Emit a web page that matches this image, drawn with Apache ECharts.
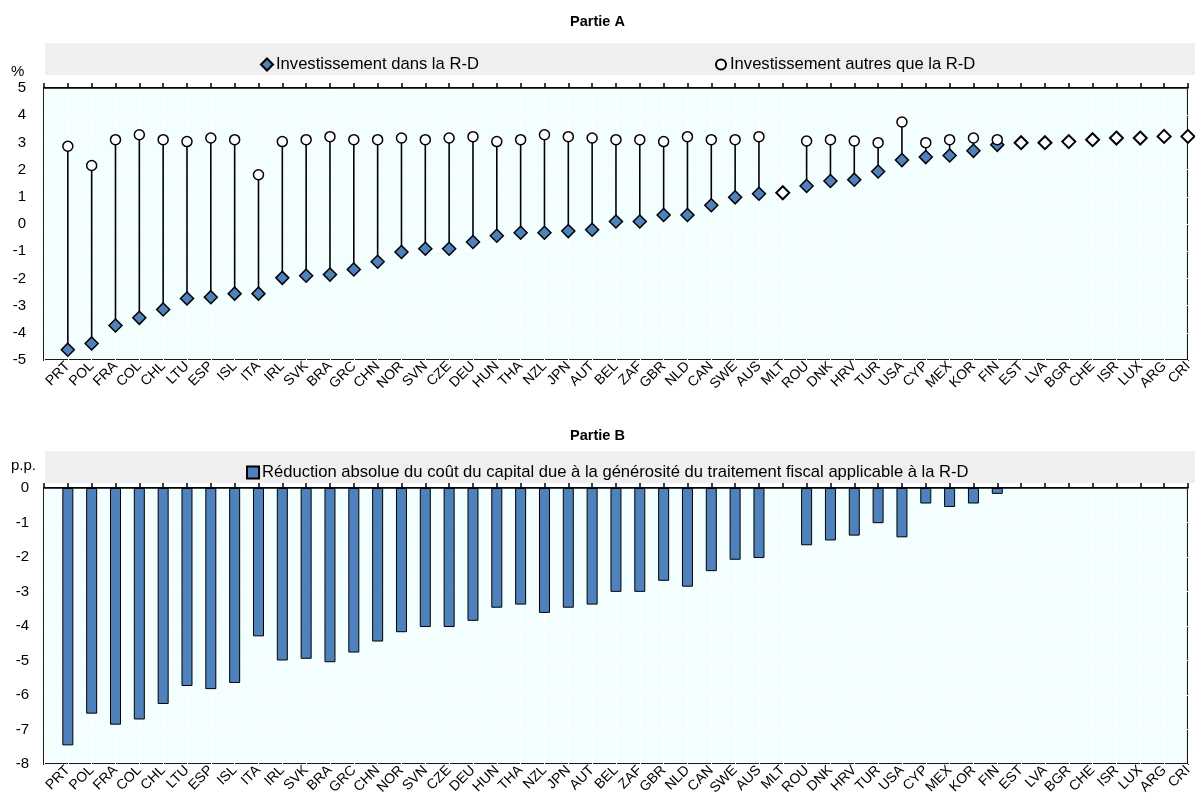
<!DOCTYPE html>
<html>
<head>
<meta charset="utf-8">
<script src="https://cdn.jsdelivr.net/npm/echarts@6/dist/echarts.min.js"></script>
<style>html,body{margin:0;padding:0;background:#fff}#chart{width:1195px;height:810px}</style>
</head>
<body>
<div id="chart"></div>
<script>
const categories = ['PRT','POL','FRA','COL','CHL','LTU','ESP','ISL','ITA','IRL','SVK','BRA','GRC','CHN','NOR','SVN','CZE','DEU','HUN','THA','NZL','JPN','AUT','BEL','ZAF','GBR','NLD','CAN','SWE','AUS','MLT','ROU','DNK','HRV','TUR','USA','CYP','MEX','KOR','FIN','EST','LVA','BGR','CHE','ISR','LUX','ARG','CRI'];

const rdInvestment = [-4.62,-4.39,-3.73,-3.45,-3.14,-2.74,-2.69,-2.56,-2.56,-1.98,-1.90,-1.86,-1.67,-1.39,-1.03,-0.91,-0.91,-0.66,-0.43,-0.32,-0.32,-0.26,-0.21,0.09,0.09,0.33,0.33,0.69,0.98,1.11,null,1.40,1.58,1.63,1.93,2.35,2.46,2.52,2.69,2.91,null,null,null,null,null,null,null,null];

const nonRdInvestment = [2.86,2.15,3.10,3.28,3.10,3.03,3.16,3.10,1.81,3.03,3.10,3.21,3.10,3.10,3.16,3.10,3.16,3.21,3.03,3.10,3.28,3.21,3.16,3.10,3.10,3.03,3.21,3.10,3.10,3.21,1.15,3.05,3.10,3.05,2.99,3.75,2.99,3.10,3.16,3.10,2.99,2.99,3.03,3.10,3.16,3.16,3.22,3.22];

const costReduction = [-7.46,-6.54,-6.86,-6.71,-6.26,-5.74,-5.83,-5.65,-4.30,-5.00,-4.95,-5.05,-4.77,-4.45,-4.18,-4.03,-4.03,-3.85,-3.47,-3.38,-3.62,-3.47,-3.38,-3.01,-3.01,-2.69,-2.86,-2.41,-2.08,-2.03,null,-1.66,-1.52,-1.38,-1.02,-1.43,-0.45,-0.55,-0.45,-0.17,null,null,null,null,null,null,null,null];

const yTicksA = {min: -5, max: 5, interval: 1};
const yTicksB = {min: -8, max: 0, interval: 1};

const seriesNames = {
  rd: 'Investissement dans la R-D',
  nonRd: 'Investissement autres que la R-D',
  cost: 'Réduction absolue du coût du capital due à la générosité du traitement fiscal applicable à la R-D'
};
const titles = ['Partie A', 'Partie B'];
const unitA = '%';
const unitB = 'p.p.';

const FONT = '"Liberation Sans", Arial, sans-serif';
const BLUE = '#4F81BD';
const PLOTBG = '#F3FEFE';
const axisCats = [''].concat(categories);

const chart = echarts.init(document.getElementById('chart'), null, {renderer: 'canvas'});

const labelAxis = (gridIndex) => ({
  type: 'category', gridIndex, data: axisCats, boundaryGap: false, position: 'bottom',
  axisLine: {show: false}, axisTick: {show: false},
  axisLabel: {rotate: 45, fontSize: 14, color: '#000', fontFamily: FONT, margin: 4, interval: 0},
  splitLine: {show: true, lineStyle: {color: '#ffffff', width: 1}}
});
const zeroAxis = (gridIndex) => ({
  type: 'category', gridIndex, data: axisCats, boundaryGap: false, position: 'top',
  axisLine: {show: true, onZero: true, lineStyle: {color: '#000', width: 1.5}},
  axisTick: {show: true, inside: false, length: 5, interval: 0, lineStyle: {color: '#000', width: 1.5}},
  axisLabel: {show: false}, splitLine: {show: false}
});
const valAxis = (gridIndex, t, margin) => ({
  type: 'value', gridIndex, min: t.min, max: t.max, interval: t.interval,
  axisLine: {show: false}, axisTick: {show: false},
  axisLabel: {fontSize: 15, color: '#000', fontFamily: FONT, margin},
  splitLine: {show: true, lineStyle: {color: '#ffffff', width: 1}}
});

const lineData = [];
const rdData = [];
const nonRdData = [];
const costData = [];
categories.forEach((c, i) => {
  if (rdInvestment[i] !== null) {
    lineData.push([c, rdInvestment[i], nonRdInvestment[i]]);
    rdData.push([c, rdInvestment[i]]);
  }
  const noRd = rdInvestment[i] === null;
  nonRdData.push({value: [c, nonRdInvestment[i]], symbol: noRd ? 'diamond' : 'circle', symbolSize: noRd ? 13 : 10,
                  itemStyle: noRd ? {borderWidth: 2} : undefined});
  if (costReduction[i] !== null) costData.push([c, costReduction[i]]);
});

const option = {
  animation: false,
  textStyle: {fontFamily: FONT},
  title: [
    {text: titles[0], left: 'center', top: 9, textStyle: {fontSize: 14.5, fontWeight: 'bold', color: '#000', fontFamily: FONT}},
    {text: titles[1], left: 'center', top: 423, textStyle: {fontSize: 14.5, fontWeight: 'bold', color: '#000', fontFamily: FONT}}
  ],
  graphic: [
    {type: 'rect', shape: {x: 45, y: 43, width: 1150, height: 32}, style: {fill: '#EFEFEF'}, z: -10},
    {type: 'rect', shape: {x: 45, y: 451, width: 1150, height: 32}, style: {fill: '#EFEFEF'}, z: -10},
    {type: 'text', left: 11, top: 64, style: {text: unitA, fontSize: 15, fill: '#000', fontFamily: FONT}},
    {type: 'text', left: 11, top: 458, style: {text: unitB, fontSize: 15, fill: '#000', fontFamily: FONT}}
  ],
  legend: [
    {left: 255, top: 51, itemWidth: 12, itemHeight: 12, itemGap: 10,
     textStyle: {fontSize: 16.6, color: '#000', fontFamily: FONT, padding: [0, 0, 0, -2]},
     data: [{name: seriesNames.rd, icon: 'diamond'}]},
    {left: 710, top: 51, itemWidth: 10, itemHeight: 10,
     textStyle: {fontSize: 16.6, color: '#000', fontFamily: FONT, padding: [0, 0, 0, -1]},
     data: [{name: seriesNames.nonRd, icon: 'circle'}]},
    {left: 241, top: 459, itemWidth: 12, itemHeight: 12,
     textStyle: {fontSize: 16.6, color: '#000', fontFamily: FONT, padding: [0, 0, 0, -2]},
     data: [{name: seriesNames.cost, icon: 'rect'}]}
  ],
  grid: [
    {left: 44, right: 5, top: 88, height: 272, show: true, backgroundColor: PLOTBG, borderColor: '#1a1a1a', borderWidth: 2},
    {left: 44, right: 5, top: 488, height: 276, show: true, backgroundColor: PLOTBG, borderColor: '#1a1a1a', borderWidth: 2}
  ],
  xAxis: [labelAxis(0), zeroAxis(0), labelAxis(1), zeroAxis(1)],
  yAxis: [valAxis(0, yTicksA, 18), valAxis(1, yTicksB, 15)],
  series: [
    {
      type: 'custom', name: 'lines', xAxisIndex: 0, yAxisIndex: 0, z: 2,
      encode: {x: 0, y: [1, 2]},
      renderItem: function (params, api) {
        const idx = api.value(0);
        const p1 = api.coord([idx, api.value(1)]);
        const p2 = api.coord([idx, api.value(2)]);
        return {type: 'line', shape: {x1: p1[0], y1: p1[1], x2: p2[0], y2: p2[1]},
                style: {stroke: '#000', lineWidth: 1.6}};
      },
      data: lineData
    },
    {
      type: 'scatter', name: seriesNames.rd, xAxisIndex: 0, yAxisIndex: 0, z: 3,
      symbol: 'diamond', symbolSize: 13,
      itemStyle: {color: BLUE, borderColor: '#000', borderWidth: 1.5, opacity: 1},
      data: rdData
    },
    {
      type: 'scatter', name: seriesNames.nonRd, xAxisIndex: 0, yAxisIndex: 0, z: 4,
      symbol: 'circle', symbolSize: 10,
      itemStyle: {color: '#ffffff', borderColor: '#000', borderWidth: 1.5, opacity: 1},
      data: nonRdData
    },
    {
      type: 'bar', name: seriesNames.cost, xAxisIndex: 2, yAxisIndex: 1, barWidth: 11,
      itemStyle: {color: BLUE, borderColor: '#000', borderWidth: 1},
      data: costData
    }
  ]
};
chart.setOption(option);
</script>
</body>
</html>
